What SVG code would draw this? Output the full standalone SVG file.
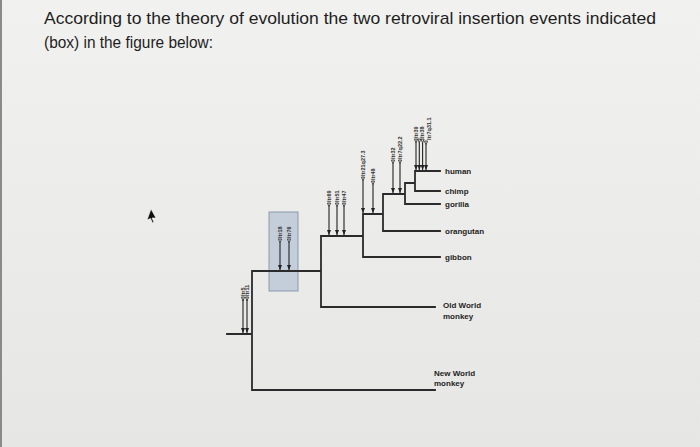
<svg xmlns="http://www.w3.org/2000/svg" width="700" height="447" viewBox="0 0 700 447">
<defs>
<linearGradient id="bg" x1="0" y1="0" x2="0" y2="1">
<stop offset="0" stop-color="#f1f1ef"/>
<stop offset="1" stop-color="#e6e6e4"/>
</linearGradient>
<marker id="ah" markerWidth="5" markerHeight="4" refX="5" refY="2" orient="auto" markerUnits="userSpaceOnUse" viewBox="0 0 5 4">
<path d="M0,0 L5,2 L0,4 Z" fill="#222"/>
</marker>
<style>
.title{font-family:"Liberation Sans",Arial,sans-serif;font-size:17px;fill:#1e1e1e}
.br{stroke:#2b2b2b;stroke-width:1.8;fill:none;stroke-linecap:square}
.lab{font-family:"Liberation Sans",Arial,sans-serif;font-size:8px;font-weight:bold;fill:#1e1e1e}
.ins{font-family:"Liberation Sans",Arial,sans-serif;font-size:5.5px;font-weight:bold;fill:#333}
.sh{stroke:#222;stroke-width:1.1;fill:none}
.sym{stroke:#222;stroke-width:0.8;fill:#e8e8e6}
</style>
</defs>
<rect width="700" height="447" fill="url(#bg)"/>
<rect x="0" y="0" width="2" height="447" fill="#8a8a8a"/>

<g id="title">
<text class="title" x="44" y="24" textLength="612" lengthAdjust="spacingAndGlyphs">According to the theory of evolution the two retroviral insertion events indicated</text>
<text class="title" x="44" y="48" textLength="169" lengthAdjust="spacingAndGlyphs">(box) in the figure below:</text>
</g>

<g id="highlight-box">
<rect x="269" y="212" width="29" height="79" fill="#c3ceda" stroke="#8b99aa" stroke-width="1"/>
</g>

<g id="connectors">
<path class="br" d="M227,334 H252 M252,271 V390 H435 M252,271 H321 M321,236 V307 H435 M321,236 H363 M363,214 V257 H440 M363,214 H383 M383,194 V231 H440 M383,194 H405 M405,183 V204 H440 M405,183 H415 M415,171 V191 H440 M415,171 H440"/>
</g>

<g id="insertions">
<g id="ins-root">
<line class="sh" x1="243" y1="300" x2="243" y2="333" marker-end="url(#ah)"/>
<line class="sh" x1="247" y1="300" x2="247" y2="333" marker-end="url(#ah)"/>
<path class="sym" d="M241.5,297 L244.5,297 L243,301 Z M245.5,297 L248.5,297 L247,301 Z"/>
<text class="ins" transform="translate(245,296) rotate(-90)">ltr5</text>
<text class="ins" transform="translate(249,296) rotate(-90)">ltr11</text>
</g>
<g id="ins-box">
<line class="sh" x1="280" y1="243" x2="280" y2="270" marker-end="url(#ah)"/>
<line class="sh" x1="289" y1="243" x2="289" y2="270" marker-end="url(#ah)"/>
<path class="sym" d="M278.5,239 L281.5,239 L280,243 Z M287.5,239 L290.5,239 L289,243 Z"/>
<text class="ins" transform="translate(282,238) rotate(-90)">ltr18</text>
<text class="ins" transform="translate(291,238) rotate(-90)">ltr76</text>
</g>
<g id="ins-ape">
<line class="sh" x1="329" y1="207" x2="329" y2="235" marker-end="url(#ah)"/>
<line class="sh" x1="337" y1="207" x2="337" y2="235" marker-end="url(#ah)"/>
<line class="sh" x1="344" y1="207" x2="344" y2="235" marker-end="url(#ah)"/>
<path class="sym" d="M327.5,203 L330.5,203 L329,207 Z M335.5,203 L338.5,203 L337,207 Z M342.5,203 L345.5,203 L344,207 Z"/>
<text class="ins" transform="translate(331,202) rotate(-90)">ltr69</text>
<text class="ins" transform="translate(339,202) rotate(-90)">ltr51</text>
<text class="ins" transform="translate(346,202) rotate(-90)">ltr47</text>
</g>
<g id="ins-greatape">
<line class="sh" x1="363" y1="181" x2="363" y2="213" marker-end="url(#ah)"/>
<line class="sh" x1="373" y1="185" x2="373" y2="213" marker-end="url(#ah)"/>
<path class="sym" d="M361.5,177 L364.5,177 L363,181 Z M371.5,181 L374.5,181 L373,185 Z"/>
<text class="ins" transform="translate(365,176) rotate(-90)">ltr21q27.3</text>
<text class="ins" transform="translate(375,180) rotate(-90)">ltr48</text>
</g>
<g id="ins-hcg">
<line class="sh" x1="393" y1="164" x2="393" y2="193" marker-end="url(#ah)"/>
<line class="sh" x1="400" y1="164" x2="400" y2="193" marker-end="url(#ah)"/>
<path class="sym" d="M391.5,160 L394.5,160 L393,164 Z M398.5,160 L401.5,160 L400,164 Z"/>
<text class="ins" transform="translate(395,159) rotate(-90)">ltr32</text>
<text class="ins" transform="translate(402,159) rotate(-90)">ltr7q22.2</text>
</g>
<g id="ins-hc">
<line class="sh" x1="416" y1="143" x2="416" y2="170" marker-end="url(#ah)"/>
<line class="sh" x1="419.3" y1="143" x2="419.3" y2="170" marker-end="url(#ah)"/>
<line class="sh" x1="422.6" y1="143" x2="422.6" y2="170" marker-end="url(#ah)"/>
<line class="sh" x1="426" y1="145" x2="426" y2="170" marker-end="url(#ah)"/>
<path class="sym" d="M414.5,139 L417.5,139 L416,143 Z M417.8,139 L420.8,139 L419.3,143 Z M421.1,139 L424.1,139 L422.6,143 Z M424.5,141 L427.5,141 L426,145 Z"/>
<text class="ins" transform="translate(418,138) rotate(-90)">ltr39</text>
<text class="ins" transform="translate(423.5,138) rotate(-90)">ltr38</text>
<text class="ins" transform="translate(431,140) rotate(-90)">ltr7q31.1</text>
</g>
</g>

<g id="labels">
<text class="lab" x="445" y="174">human</text>
<text class="lab" x="445" y="194">chimp</text>
<text class="lab" x="445" y="207">gorilla</text>
<text class="lab" x="445" y="234">orangutan</text>
<text class="lab" x="445" y="260">gibbon</text>
<text class="lab" x="443" y="308">Old World</text>
<text class="lab" x="443" y="319">monkey</text>
<text class="lab" x="434" y="376">New World</text>
<text class="lab" x="434" y="386">monkey</text>
</g>

<g id="cursor">
<path d="M151,209 L147,220 L150.5,218.5 L152.5,223 L154,222.3 L152,218 L156,218 Z" fill="#111" stroke="#fff" stroke-width="0.6"/>
</g>
</svg>
